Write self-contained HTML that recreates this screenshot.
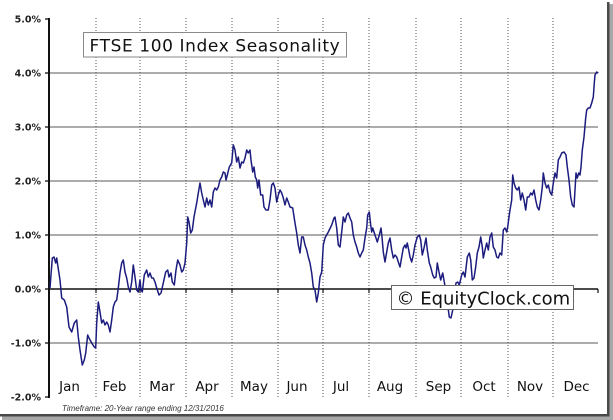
<!DOCTYPE html>
<html><head><meta charset="utf-8"><style>
html,body{margin:0;padding:0;background:#fff;}
svg{display:block;}
</style></head><body>
<svg width="613" height="420" viewBox="0 0 613 420" xmlns="http://www.w3.org/2000/svg">
<rect x="0" y="0" width="613" height="420" fill="#fff"/>
<!-- frame/shadow -->
<rect x="607" y="2" width="2.5" height="414" fill="#4a4a4a"/>
<rect x="609.5" y="4" width="3.5" height="416" fill="#a8a8a8"/>
<rect x="0" y="414" width="609.5" height="2.5" fill="#4a4a4a"/>
<rect x="2" y="416.5" width="611" height="3.5" fill="#a8a8a8"/>

<!-- horizontal gridlines -->
<g stroke="#7a7a7a" stroke-width="1.2">
<line x1="49" y1="73" x2="598" y2="73"/>
<line x1="49" y1="127" x2="598" y2="127"/>
<line x1="49" y1="181" x2="598" y2="181"/>
<line x1="49" y1="235" x2="598" y2="235"/>
<line x1="49" y1="343" x2="598" y2="343"/>
</g>
<!-- vertical dotted month separators -->
<g stroke="#555" stroke-width="1" stroke-dasharray="1,2">
<line x1="96" y1="18" x2="96" y2="397"/>
<line x1="140" y1="18" x2="140" y2="397"/>
<line x1="186" y1="18" x2="186" y2="397"/>
<line x1="232" y1="18" x2="232" y2="397"/>
<line x1="278" y1="18" x2="278" y2="397"/>
<line x1="323" y1="18" x2="323" y2="397"/>
<line x1="369" y1="18" x2="369" y2="397"/>
<line x1="416" y1="18" x2="416" y2="397"/>
<line x1="461" y1="18" x2="461" y2="397"/>
<line x1="508" y1="18" x2="508" y2="397"/>
<line x1="553" y1="18" x2="553" y2="397"/>
</g>
<!-- zero line and x ticks -->
<line x1="49" y1="289" x2="598" y2="289" stroke="#111" stroke-width="1.6"/>
<g stroke="#111" stroke-width="1.2">
<line x1="96" y1="289" x2="96" y2="293"/>
<line x1="140" y1="289" x2="140" y2="293"/>
<line x1="186" y1="289" x2="186" y2="293"/>
<line x1="232" y1="289" x2="232" y2="293"/>
<line x1="278" y1="289" x2="278" y2="293"/>
<line x1="323" y1="289" x2="323" y2="293"/>
<line x1="369" y1="289" x2="369" y2="293"/>
<line x1="416" y1="289" x2="416" y2="293"/>
<line x1="461" y1="289" x2="461" y2="293"/>
<line x1="508" y1="289" x2="508" y2="293"/>
<line x1="553" y1="289" x2="553" y2="293"/>
<line x1="598" y1="289" x2="598" y2="293"/>
</g>
<!-- y axis -->
<line x1="49" y1="18" x2="49" y2="398" stroke="#111" stroke-width="2"/>
<g stroke="#111" stroke-width="1.3">
<line x1="45" y1="19" x2="49" y2="19"/>
<line x1="45" y1="73" x2="49" y2="73"/>
<line x1="45" y1="127" x2="49" y2="127"/>
<line x1="45" y1="181" x2="49" y2="181"/>
<line x1="45" y1="235" x2="49" y2="235"/>
<line x1="45" y1="289" x2="49" y2="289"/>
<line x1="45" y1="343" x2="49" y2="343"/>
<line x1="45" y1="397" x2="49" y2="397"/>
</g>
<g font-family="'DejaVu Sans', 'Liberation Sans', sans-serif" font-weight="bold" font-size="9.5" fill="#222" text-anchor="end">
<text x="41" y="22.5">5.0%</text>
<text x="41" y="76.5">4.0%</text>
<text x="41" y="130.5">3.0%</text>
<text x="41" y="184.5">2.0%</text>
<text x="41" y="238.5">1.0%</text>
<text x="41" y="292.5">0.0%</text>
<text x="41" y="346.5">-1.0%</text>
<text x="41" y="400.5">-2.0%</text>
</g>

<!-- data -->
<polyline fill="none" stroke="#1c1c7e" stroke-width="1.5" stroke-linejoin="round" points="
50,288 52.3,258 54,257 55.7,263 56.7,258 57.7,265 60,280 61.7,298 64.3,300 66.7,307 69,327 71.7,332 74.3,323 76.7,320 78.3,337 80,350 82.3,365 84.3,360 85.7,353 87.7,335 89,338 91.7,343 94.3,347 95.7,348 96.7,323 98.3,302 100,312 101.7,323 103.3,320 105,325 106.7,322 108.3,325 110,332 111.7,320 113.3,307 115,302 116.7,300 118.3,288 120,273 121.7,263 123.3,260 125,272 126.7,278 128.3,287 130,292 131.7,282 133.3,265 135,277 136.7,290 138.3,292 140,280 141,290 142.3,292 144.3,275 146.7,270 148.3,277 150,273 151.7,278 153.3,278 155,282 156.7,288 159,295 161,293 163.3,283 165.7,272 167.7,270 169,277 171,273 172.3,282 174.3,285 176,270 177.7,260 180,265 181.7,272 183.3,270 185,263
186.7,243 187.7,217 189,222 190.7,233 192.3,230 194,217 195.7,208 196.7,203 198.3,193 200,183 201.7,193 203.3,200 205,207 206.7,198 208.3,205 210,200 211.7,207 213.3,192 215,188 216.7,190 218.3,187 220,180 221.7,177 223.3,172 225,173 226,180 227.3,175 229.3,167 231.7,163 233.3,145 235,150 236.7,162 238.3,157 240,168 241.7,162 243.3,163 245,158 246.7,150 248.3,153 250,150 251,160 252.7,172 254,167 255.3,177 256.7,180 257.7,188 259,180 260.7,195 262.7,195 264,207 266,210 268.3,210 270,200 271.7,185 273.3,183 275,188 276.7,202 278.3,195 280,190 281.7,193 283.3,198 285,205 286.7,198 288.3,202 290,207 292.7,208 295,223 296.7,233 298.3,245 300,253 301.7,237 303.3,237 305,245 306.7,250 308.3,257 310,263 311.7,273 313.3,287 315,290 316.7,302 318.3,293 320,277 321.7,272 323.3,245 325,238 328.3,232 331.7,225 334,218 335,217 336.7,228 338.3,245 340,247 341.7,232 343.3,217 345,222 346.7,215 348.3,213 350,218 351.7,222 353.3,235 355,242 356.7,247 358.3,253 360,257 361.7,253 363.3,250 365,238 366.7,228 367.7,215 369.3,212 370.7,225 371.7,232 372.7,228 374.3,233 376,238 377.3,242 379.3,235 381,228 382,237 383.3,252 385,262 386.7,252 388.3,243 390,238 391.7,250 393.3,258 395,255 396.7,257 398.3,262 400,267 401.7,257 403.3,248 405,245 406,248 407.3,243 408.7,250 410,257 411.7,262 413.3,255 415,245 417.3,237 419.3,235 420.7,240 422.3,255 424,248 426,238 427.3,250 429.3,263 430.7,267 432.7,275 434.3,278 436,277 437.3,263 439,272 440.7,280 442.7,273 444.3,282 446,292 447.7,305 449.3,317 451,318 452.7,310 454.3,295 456,283 457.7,282 459.3,285 461.7,275 463.3,272 465,277 467.3,257 469.3,253 470.7,260 472.3,280
474,278 475.7,267 477.3,253 479,247 480.7,237 482.3,247 483.3,258 485,250 486.7,243 488.3,250 490,237 491.7,233 493.3,247 495,250 496.7,257 498.3,258 500,253 501.7,255 503.3,230 505,228 506.7,232 507.7,227 509,217 510,210 511.7,200 512.7,175 514,183 515.7,188 517.3,190 519,187 520.7,200 522.3,193 524,200 525.7,210 527.3,197 529,197 530.7,193 532.3,195 534,190 535.7,200 537.3,207 539,210 540.7,200 542.3,187 543.3,173 545,183 546.7,188 548.3,185 550,192 551.7,195 553.3,183 555,173 556.7,178 558.3,160 560,157 561.7,153 564,152 566,155 567.3,167 569,180 570.7,197 572.3,205 574,207 575,190 576,173 577.3,178 578.7,173 580,175 581,167 582.3,150 584,137 585.7,118 586.7,110 588.3,108 590,108 591.7,103 593.3,97 594.3,83 595,75 596.7,72 598.3,73"/>

<!-- title box -->
<rect x="83.5" y="32.5" width="263" height="24.5" fill="#fff" stroke="#8a8a8a" stroke-width="1"/>
<text x="89.5" y="51.7" font-family="'DejaVu Sans', 'Liberation Sans', sans-serif" font-size="17" letter-spacing="0.6" fill="#111">FTSE 100 Index Seasonality</text>

<!-- copyright box -->
<rect x="391.5" y="285.5" width="182" height="24" fill="#fff" stroke="#666" stroke-width="1"/>
<text x="396.5" y="304.7" font-family="'DejaVu Sans', 'Liberation Sans', sans-serif" font-size="18" fill="#111">© EquityClock.com</text>

<!-- month labels -->
<g font-family="'DejaVu Sans', 'Liberation Sans', sans-serif" font-size="13.5" fill="#111" text-anchor="middle">
<text x="69.5" y="391">Jan</text>
<text x="114.5" y="391">Feb</text>
<text x="162" y="391">Mar</text>
<text x="207" y="391">Apr</text>
<text x="254" y="391">May</text>
<text x="297" y="391">Jun</text>
<text x="341" y="391">Jul</text>
<text x="390" y="391">Aug</text>
<text x="438.5" y="391">Sep</text>
<text x="484" y="391">Oct</text>
<text x="530" y="391">Nov</text>
<text x="576.5" y="391">Dec</text>
</g>

<text x="62" y="411" font-family="'Liberation Sans', sans-serif" font-style="italic" font-size="8" fill="#333">Timeframe: 20-Year range ending 12/31/2016</text>
</svg>
</body></html>
